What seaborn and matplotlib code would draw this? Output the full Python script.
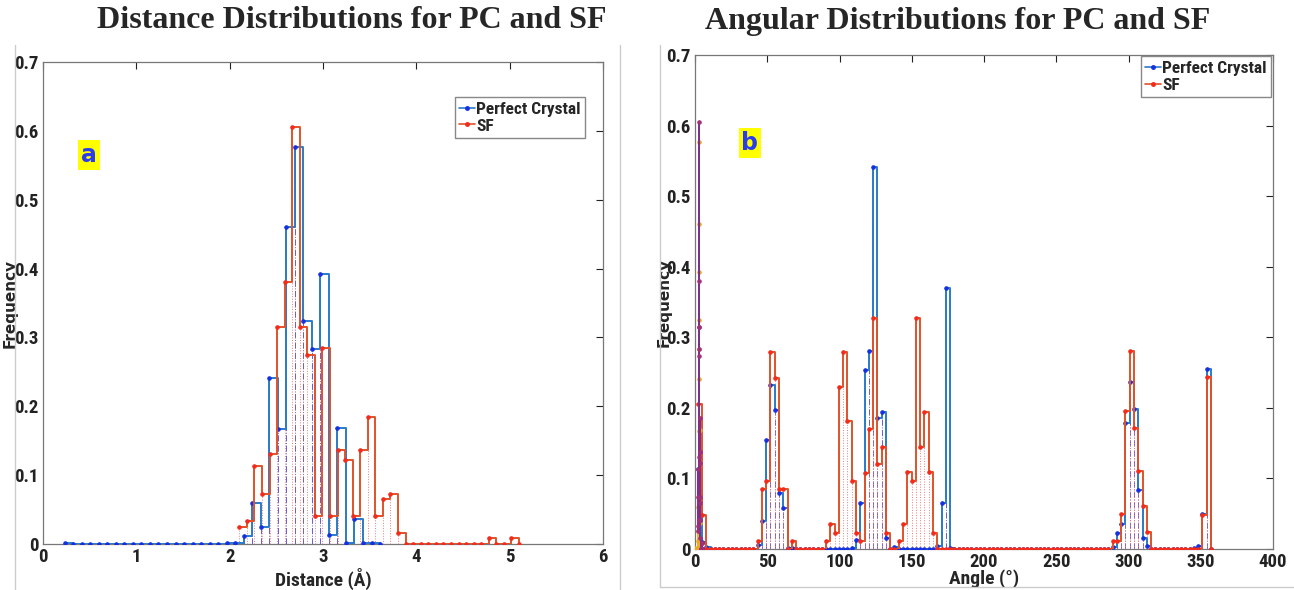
import numpy as np
import seaborn as sns
import matplotlib.pyplot as plt
from matplotlib.lines import Line2D

# distance histograms (Angstrom), markers sit on the left edge of each step
pc_dist_x = np.round(0.233 + 0.0913 * np.arange(38), 3)
pc_dist = [0.001, 0, 0, 0, 0, 0, 0, 0, 0, 0,
           0, 0, 0, 0, 0, 0, 0, 0, 0, 0.002,
           0.002, 0.011, 0.0595, 0.025, 0.2415, 0.167, 0.46, 0.5765, 0.324, 0.283,
           0.3925, 0.0126, 0.169, 0.001, 0.037, 0.001, 0.002, 0]
sf_dist_x = np.round(2.103 + 0.081 * np.arange(38), 3)
sf_dist = [0.025, 0.033, 0.114, 0.073, 0.13, 0.315, 0.38, 0.605, 0.315, 0.274,
           0.041, 0.284, 0.041, 0.137, 0.122, 0.041, 0.137, 0.185, 0.041, 0.065,
           0.073, 0.016, 0, 0, 0, 0, 0, 0, 0, 0,
           0, 0, 0, 0.009, 0, 0, 0.009, 0]

# angle histograms (degrees), same bins for both
ang_x = np.round(1.9 + 2.96 * np.arange(121), 2)
pc_ang = [0.113, 0.01, 0.003, 0, 0, 0, 0, 0, 0, 0,
          0, 0, 0, 0, 0.006, 0.039, 0.154, 0.233, 0.197, 0.08,
          0.058, 0.002, 0.001, 0, 0, 0, 0, 0, 0, 0,
          0, 0, 0, 0, 0, 0, 0.001, 0.013, 0.065, 0.253,
          0.281, 0.542, 0.185, 0.194, 0.015, 0, 0.003, 0, 0, 0,
          0, 0, 0, 0, 0, 0, 0.004, 0.065, 0.37, 0.001,
          0, 0, 0, 0, 0, 0, 0, 0, 0, 0,
          0, 0, 0, 0, 0, 0, 0, 0, 0, 0,
          0, 0, 0, 0, 0, 0, 0, 0, 0, 0,
          0, 0, 0, 0, 0, 0, 0, 0.003, 0.022, 0.035,
          0.179, 0.237, 0.199, 0.084, 0.016, 0.004, 0, 0, 0, 0,
          0, 0, 0, 0, 0, 0, 0.001, 0.004, 0.05, 0.255,
          0]
sf_ang = [0.206, 0.048, 0, 0, 0, 0, 0, 0, 0, 0,
          0, 0, 0, 0, 0.012, 0.085, 0.096, 0.279, 0.242, 0.085,
          0.085, 0, 0.012, 0, 0, 0, 0, 0, 0, 0,
          0.012, 0.036, 0.023, 0.23, 0.279, 0.182, 0.097, 0.023, 0.012, 0.108,
          0.17, 0.327, 0.121, 0.145, 0.023, 0, 0, 0.012, 0.036, 0.109,
          0.097, 0.327, 0.145, 0.194, 0.109, 0.023, 0, 0, 0, 0,
          0, 0, 0, 0, 0, 0, 0, 0, 0, 0,
          0, 0, 0, 0, 0, 0, 0, 0, 0, 0,
          0, 0, 0, 0, 0, 0, 0, 0, 0, 0,
          0, 0, 0, 0, 0, 0, 0, 0.012, 0.012, 0.049,
          0.195, 0.28, 0.171, 0.11, 0.061, 0.024, 0, 0, 0, 0,
          0, 0, 0, 0, 0, 0, 0, 0, 0.048, 0.244,
          0]

legend_labels = ['Perfect Crystal', 'SF']

sns.set_theme(style='white')
narrow = ['Liberation Sans Narrow', 'Roboto Condensed', 'Open Sans Condensed',
          'DejaVu Sans Condensed', 'Liberation Sans', 'DejaVu Sans']
plt.rcParams['font.family'] = narrow
plt.rcParams['font.weight'] = 'bold'
plt.rcParams['font.stretch'] = 'condensed'

BLUE_LINE, BLUE_MARK = '#2a7bc8', '#1530e0'
RED_LINE, RED_MARK = '#e0522a', '#f42a1a'


def stairs(ax, x, y, line_c, mark_c, stem_ls, stem_c, label=None):
  ax.vlines(x, 0, y, colors=stem_c, linestyles=stem_ls, lw=0.7, zorder=1)
  sns.lineplot(x=x, y=y, drawstyle='steps-post', color=line_c, lw=1.4,
               marker='.', markersize=5, markerfacecolor=mark_c, markeredgecolor=mark_c,
               estimator=None, sort=False, ax=ax, label=label, legend=False, zorder=3)


def style_axes(ax, xlim, xticks, xlabel, ylab_x, xlab_y):
  ax.set_xlim(xlim)
  ax.set_ylim(0, 0.7)
  ax.set_xticks(xticks)
  ax.set_yticks(np.arange(0, 0.71, 0.1))
  ax.set_yticklabels(['0'] + ['%.1f' % v for v in np.arange(0.1, 0.71, 0.1)])
  ax.tick_params(direction='in', length=5, width=0.8, top=True, right=True,
                 labelsize=13.5, colors='#222222', pad=3)
  for t in ax.get_xticklabels() + ax.get_yticklabels():
    t.set_fontweight('bold')
  for s in ax.spines.values():
    s.set_color('#777777')
    s.set_linewidth(0.9)
  ax.set_xlabel(xlabel, fontsize=14, fontweight='bold')
  ax.set_ylabel('Frequency', fontsize=11, fontweight='bold', family=['DejaVu Sans'],
                fontstretch='normal')
  ax.yaxis.set_label_coords(ylab_x, 0.5)
  ax.xaxis.set_label_coords(0.5, xlab_y)


def add_legend(ax, anchor):
  handles = [Line2D([], [], color=BLUE_LINE, marker='.', ms=5, mfc=BLUE_MARK, mec=BLUE_MARK, lw=1.2),
             Line2D([], [], color=RED_LINE, marker='.', ms=5, mfc=RED_MARK, mec=RED_MARK, lw=1.2)]
  leg = ax.legend(handles, legend_labels, loc='upper right', bbox_to_anchor=anchor,
                  fancybox=False, framealpha=1, edgecolor='#888888', handlelength=0.9,
                  handletextpad=0.1, borderpad=0.25, labelspacing=0.1, borderaxespad=0,
                  prop={'size': 12.5, 'weight': 'bold', 'family': narrow, 'stretch': 'condensed'})
  leg.get_frame().set_linewidth(1.0)


fig = plt.figure(figsize=(12.94, 5.90), dpi=100)
ax1 = fig.add_axes([43 / 1294, 1 - 544 / 590, 560 / 1294, 482 / 590])
ax2 = fig.add_axes([695 / 1294, 1 - 549 / 590, 578 / 1294, 494 / 590])

# panel a
stairs(ax1, pc_dist_x, pc_dist, BLUE_LINE, BLUE_MARK, '-.', '#6a5ad8')
stairs(ax1, sf_dist_x, sf_dist, RED_LINE, RED_MARK, ':', '#f07c7c')
style_axes(ax1, (0, 6), range(0, 7), 'Distance (Å)', -0.046, -0.05)
add_legend(ax1, (0.968, 0.927))
ax1.text(0.49, 0.565, 'a', color='#2a3cf0', fontsize=17, fontweight='bold', family=['DejaVu Sans'],
         fontstretch='normal', ha='center', va='center',
         bbox=dict(facecolor='#ffff00', edgecolor='none', pad=2))

# panel b (distance data also ends up on this axis near zero)
stairs(ax2, ang_x, pc_ang, BLUE_LINE, BLUE_MARK, '-.', '#6a5ad8')
stairs(ax2, ang_x, sf_ang, RED_LINE, RED_MARK, ':', '#f07c7c')
stairs(ax2, pc_dist_x, pc_dist, '#edb120', '#e8a820', ':', '#edb120')
stairs(ax2, sf_dist_x, sf_dist, '#7e2f8e', '#a0307a', ':', '#7e2f8e')
style_axes(ax2, (0, 400), range(0, 401, 50), 'Angle (°)', -0.04, -0.04)
add_legend(ax2, (0.997, 0.997))
ax2.text(38, 0.575, 'b', color='#2a3cf0', fontsize=17, fontweight='bold', family=['DejaVu Sans'],
         fontstretch='normal', ha='center', va='center',
         bbox=dict(facecolor='#ffff00', edgecolor='none', pad=2))

# titles
fig.text(352 / 1294, 1 - 21 / 590, 'Distance Distributions for PC and SF', ha='center', va='center',
         fontsize=23, fontweight='bold', family=['Liberation Serif'], fontstretch='normal')
fig.text(958 / 1294, 1 - 21 / 590, 'Angular Distributions for PC and SF', ha='center', va='center',
         fontsize=23, fontweight='bold', family=['Liberation Serif'], fontstretch='normal')

# page borders around the panels
for xs, ys in [((15, 15), (45, 590)), ((620, 620), (45, 590)),
               ((660, 660), (45, 587)), ((660, 1294), (587, 587))]:
  fig.add_artist(Line2D([x / 1294 for x in xs], [1 - y / 590 for y in ys],
                        color='#cccccc', lw=1.0))

plt.savefig('out.png', dpi=100)
